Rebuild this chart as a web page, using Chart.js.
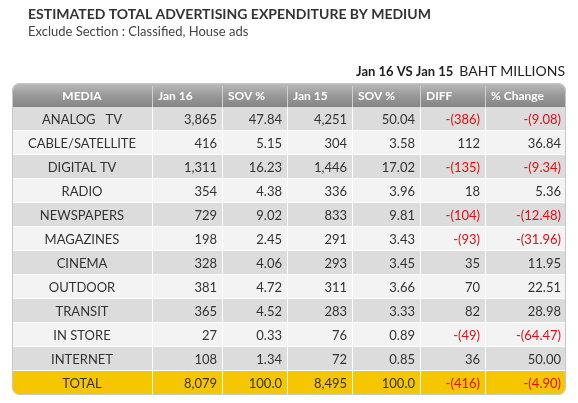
<!DOCTYPE html>
<html><head><meta charset="utf-8">
<script src="https://cdn.jsdelivr.net/npm/chart.js@4"></script>
<style>html,body{margin:0;padding:0;background:#fff}#w{width:578px;height:403px}</style>
</head><body><div id="w"><canvas id="c"></canvas></div>
<script>
const headers = ['MEDIA','Jan 16','SOV %','Jan 15','SOV %','DIFF','% Change'];
const media = ['ANALOG   TV','CABLE/SATELLITE','DIGITAL TV','RADIO','NEWSPAPERS','MAGAZINES','CINEMA','OUTDOOR','TRANSIT','IN STORE','INTERNET','TOTAL'];
const jan16 = ['3,865','416','1,311','354','729','198','328','381','365','27','108','8,079'];
const sov16 = ['47.84','5.15','16.23','4.38','9.02','2.45','4.06','4.72','4.52','0.33','1.34','100.0'];
const jan15 = ['4,251','304','1,446','336','833','291','293','311','283','76','72','8,495'];
const sov15 = ['50.04','3.58','17.02','3.96','9.81','3.43','3.45','3.66','3.33','0.89','0.85','100.0'];
const diff = ['-(386)','112','-(135)','18','-(104)','-(93)','35','70','82','-(49)','36','-(416)'];
const pct = ['-(9.08)','36.84','-(9.34)','5.36','-(12.48)','-(31.96)','11.95','22.51','28.98','-(64.47)','50.00','-(4.90)'];

const colW = [140,70,65,65,68,65,81];
const rowLabels = ['hdr'].concat(media);
const FONT = 'Lato, "Open Sans", sans-serif';

const tablePlugin = {
  id:'table',
  afterDraw(chart){
    const ctx = chart.ctx, xs = chart.scales.x, ys = chart.scales.y;
    const n = rowLabels.length, rh = (ys.bottom-ys.top)/n;
    const edges=[0]; colW.forEach(w=>edges.push(edges[edges.length-1]+w));
    const ex = edges.map(v=>xs.getPixelForValue(v));
    const cols=[media,jan16,sov16,jan15,sov15,diff,pct];
    ctx.save();
    // titles
    ctx.fillStyle='#333'; ctx.textBaseline='alphabetic'; ctx.textAlign='left';
    ctx.font='bold 14px '+FONT; ctx.fillText('ESTIMATED TOTAL ADVERTISING EXPENDITURE BY MEDIUM',28,19);
    ctx.font='13px '+FONT; ctx.fillStyle='#444'; ctx.fillText('Exclude Section : Classified, House ads',28,36);
    ctx.textAlign='right'; ctx.font='14px '+FONT; ctx.fillStyle='#222';
    const unit='BAHT MILLIONS'; ctx.fillText(unit,565,76);
    const uw=ctx.measureText(unit).width;
    ctx.font='bold 13px '+FONT; ctx.fillText('Jan 16 VS Jan 15',565-uw-6,76);
    // header
    const hy0 = ys.getPixelForValue(0)-rh/2;
    const g=ctx.createLinearGradient(0,hy0,0,hy0+rh);
    g.addColorStop(0,'#bdbdbd'); g.addColorStop(0.5,'#9a9a9a'); g.addColorStop(1,'#858585');
    ctx.fillStyle=g; ctx.beginPath(); ctx.roundRect(ex[0],hy0,ex[7]-ex[0],rh,[8,8,0,0]); ctx.fill();
    ctx.font='bold 12px '+FONT; ctx.fillStyle='#fff'; ctx.textBaseline='middle';
    headers.forEach((h,i)=>{
      if(i==0){ctx.textAlign='center'; ctx.fillText(h,(ex[0]+ex[1])/2,hy0+rh/2+1);}
      else {ctx.textAlign='left'; ctx.fillText(h,ex[i]+6,hy0+rh/2+1);}
      if(i>0){ctx.strokeStyle='#d0d0d0'; ctx.lineWidth=1; ctx.beginPath(); ctx.moveTo(ex[i]+0.5,hy0+3); ctx.lineTo(ex[i]+0.5,hy0+rh); ctx.stroke();}
    });
    // rows
    for(let r=0;r<media.length;r++){
      const y0=ys.getPixelForValue(r+1)-rh/2;
      const total = r===media.length-1;
      if(total){ctx.fillStyle='#f6c600'; ctx.beginPath(); ctx.roundRect(ex[0],y0,ex[7]-ex[0],rh,[0,0,8,8]); ctx.fill();}
      else {ctx.fillStyle = r%2===0 ? '#dcdcdc' : '#f3f3f3'; ctx.fillRect(ex[0],y0,ex[7]-ex[0],rh);}
      ctx.strokeStyle='#ffffff'; ctx.lineWidth=1;
      for(let i=1;i<7;i++){ctx.beginPath(); ctx.moveTo(ex[i]+0.5,y0); ctx.lineTo(ex[i]+0.5,y0+rh); ctx.stroke();}
      if(!total){ctx.beginPath(); ctx.moveTo(ex[0],y0+rh-0.5); ctx.lineTo(ex[7],y0+rh-0.5); ctx.stroke();}
      ctx.font='13px '+FONT;
      cols.forEach((c,i)=>{
        const v=c[r];
        ctx.fillStyle = (i>=5 && v.startsWith('-')) ? '#e01010' : '#333';
        if(i==0){ctx.textAlign='center'; ctx.fillText(v,(ex[0]+ex[1])/2,y0+rh/2+1);}
        else {ctx.textAlign='right'; ctx.fillText(v,ex[i+1]-5,y0+rh/2+1);}
      });
    }
    ctx.strokeStyle='#c8c8c8'; ctx.lineWidth=1; ctx.beginPath();
    ctx.roundRect(ex[0]+0.5,hy0+0.5,ex[7]-ex[0]-1,ys.bottom-hy0-1,8); ctx.stroke();
    ctx.restore();
  }
};

new Chart(document.getElementById('c'),{
  type:'bar',
  data:{labels:rowLabels,datasets:[{data:[],backgroundColor:'transparent'}]},
  options:{
    responsive:true,maintainAspectRatio:false,animation:false,indexAxis:'y',
    layout:{padding:{left:12,right:12,top:83,bottom:8}},
    plugins:{legend:{display:false},tooltip:{enabled:false}},
    scales:{
      x:{type:'linear',min:0,max:colW.reduce((a,b)=>a+b,0),display:false},
      y:{type:'category',offset:true,display:false,grid:{display:false}}
    }
  },
  plugins:[tablePlugin]
});
</script></body></html>
